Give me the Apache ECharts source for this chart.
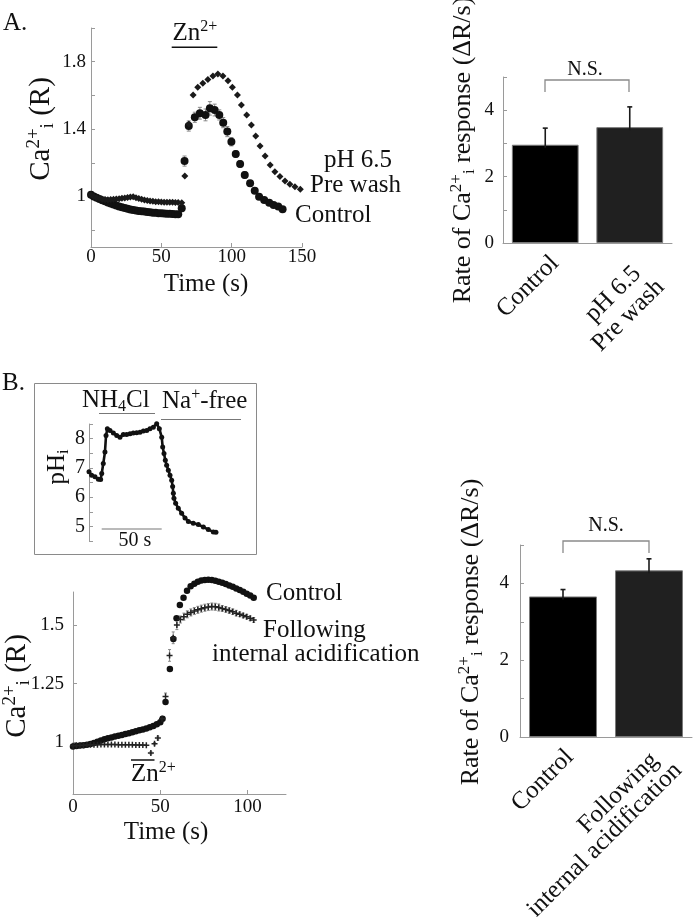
<!DOCTYPE html>
<html>
<head>
<meta charset="utf-8">
<script src="https://cdn.jsdelivr.net/npm/echarts@6/dist/echarts.min.js"></script>
<style>html,body{margin:0;padding:0;background:#fff}#c{width:693px;height:917px}</style>
</head>
<body>
<div id="c"></div>
<script>
// ---------- Panel A (left): Ca2+i ratio vs time ----------
const aControlTime = [0,2,4,6,8,10,12,14,16,18,20,22,24,26,28,30,32,34,36,38,40,42,44,46,48,50,52,54,56,58,60,62,
  64.5,66.5,69.5,73.8,77.4,81.4,84.5,87.9,91.2,94,96.9,99.8,102.9,106,109.3,113.1,116.4,119.5,123.1,126.7,129.8,133.1,136.2];
const aControlValue = [1.01,1.0,0.992,0.985,0.978,0.971,0.964,0.958,0.952,0.946,0.941,0.936,0.931,0.927,0.923,0.92,0.917,0.914,0.912,0.91,0.908,0.906,0.904,0.903,0.901,0.9,0.899,0.898,0.897,0.896,0.895,0.895,
  0.93,1.21,1.418,1.47,1.494,1.484,1.523,1.513,1.484,1.438,1.385,1.325,1.252,1.193,1.128,1.078,1.034,0.999,0.979,0.963,0.95,0.94,0.924];
const aControlErr = [0,0,0,0,0,0,0,0,0,0,0,0,0,0,0,0,0,0,0,0,0,0,0,0,0,0,0,0,0,0,0,0,
  0.02,0.03,0.03,0.03,0.035,0.035,0.04,0.035,0.03,0.03,0.03,0.025,0.02,0.02,0.02,0.015,0.015,0.01,0.01,0.01,0.01,0.01,0.01];
const aPreTime = [0,2,4,6,8,10,12,14,16,18,20,22,24,26,28,30,32,34,36,38,40,42,44,46,48,50,52,54,56,58,60,62,
  64.5,66.7,69.6,72.6,75.9,79.5,83.1,86.7,90.2,93.8,97.4,100.5,104.1,106.9,110.7,114,117.1,120.2,123.8,127.4,130.7,134.3,137.9,141.4,145,148.8];
const aPreValue = [1.01,1.0,0.993,0.988,0.984,0.982,0.981,0.982,0.983,0.985,0.987,0.989,0.991,0.994,0.997,0.998,0.993,0.988,0.983,0.979,0.976,0.973,0.971,0.969,0.968,0.967,0.966,0.966,0.965,0.965,0.964,0.964,
  0.962,1.122,1.43,1.602,1.648,1.672,1.695,1.715,1.727,1.715,1.687,1.648,1.602,1.543,1.484,1.424,1.359,1.3,1.24,1.187,1.147,1.118,1.092,1.072,1.058,1.043];
const aTimeTicks = [0, 50, 100, 150];
const aRatioLabels = [1, 1.4, 1.8];
const aRatioTicks = [0.8, 1, 1.2, 1.4, 1.6, 1.8, 2];

// ---------- Panel A (right): rate bars ----------
const aBarCategories = ['Control', 'pH 6.5\nPre wash'];
const aBarValues = [2.96, 3.49];
const aBarErrors = [0.50, 0.61];

// ---------- Panel B inset: pHi ----------
const bPhTime = [0,2.2,5,7.8,9.7,10.6,11.9,13.3,14.2,15.3,17.5,20.3,23.1,25.8,28.6,31.4,34.2,36.9,39.7,42.5,45.3,48.1,50.8,53.6,56.4,58.6,60.6,61.4,62.5,63.6,64.7,66.1,67.5,68.9,69.7,70.3,70.8,72.2,74.4,77.2,80,82.8,86.9,91.1,95.3,99.4,103.6,105.8];
const bPhValue = [6.87,6.75,6.70,6.61,6.60,6.81,7.15,7.54,8.11,8.34,8.28,8.19,8.11,8.05,8.14,8.14,8.17,8.19,8.20,8.22,8.26,8.28,8.34,8.39,8.51,8.34,8.05,7.71,7.49,7.26,7.09,6.92,6.75,6.58,6.36,6.13,5.96,5.79,5.62,5.45,5.29,5.17,5.11,5.06,4.98,4.89,4.81,4.80];

// ---------- Panel B (lower left): Ca2+i ratio vs time ----------
const bControlTime = [0,2,4,6,8,10,12,14,16,18,20,22,24,26,28,30,32,34,36,38,40,42,44,46,48,50,
  51.3,53,55.5,57.5,59.3,61.2,63.3,65.3,67.4,69.5,71.5,73.5,75.5,77.5,79.5,81.5,83.5,85.5,87.5,89.5,91.5,93.5,95.5,97.5,99.5,101.5,103.5];
const bControlValue = [0.982,0.984,0.986,0.988,0.99,0.993,0.997,1.002,1.008,1.013,1.017,1.021,1.025,1.028,1.031,1.035,1.039,1.043,1.047,1.051,1.055,1.059,1.064,1.07,1.077,1.086,
  1.1,1.172,1.312,1.44,1.528,1.585,1.615,1.645,1.664,1.675,1.684,1.689,1.691,1.692,1.691,1.688,1.684,1.679,1.674,1.668,1.662,1.655,1.648,1.641,1.633,1.625,1.615];
const bFollowTime = [0,2,4,6,8,10,12,14,16,18,20,22,24,26,28,30,32,34,36,38,40,42,
  44.6,46.7,48.6,51,53,55.3,57.4,59.5,61.5,63.5,65.5,67.5,69.5,71.5,73.5,75.5,77.5,79.5,81.5,83.5,85.5,87.5,89.5,91.5,93.5,95.5,97.5,99.5,101.5,103.5];
const bFollowValue = [0.985,0.986,0.987,0.988,0.989,0.99,0.99,0.99,0.991,0.991,0.991,0.991,0.991,0.99,0.99,0.99,0.99,0.99,0.989,0.989,0.989,0.988,
  0.955,0.994,1.018,1.1,1.195,1.37,1.445,1.5,1.523,1.535,1.545,1.553,1.559,1.564,1.569,1.573,1.576,1.578,1.577,1.574,1.57,1.566,1.561,1.556,1.55,1.545,1.54,1.535,1.528,1.521];
const bFollowErr = [0,0,0,0,0,0,0,0,0,0,0,0,0,0,0,0,0,0,0,0,0,0,
  0.005,0.005,0.008,0.01,0.015,0.025,0.025,0.02,0.015,0.015,0.015,0.015,0.015,0.015,0.015,0.015,0.015,0.015,0.015,0.015,0.012,0.012,0.012,0.012,0.012,0.01,0.01,0.01,0.01,0.01];
const bTimeTicks = [0, 50, 100];
const bRatioTicks = [1, 1.25, 1.5];

// ---------- Panel B (right): rate bars ----------
const bBarCategories = ['Control', 'Following\ninternal acidification'];
const bBarValues = [3.66, 4.34];
const bBarErrors = [0.18, 0.30];

// ---------- styling ----------
const F = '"Liberation Serif", "Times New Roman", serif';
const AX = '#9a9a9a';
const TX = '#111';
const barColors = ['#000000', '#202020'];
// rotated category label placement (end of each line, relative to band centre on the axis line)
const aCatLayout = { single: [9.7, 16.7], first: [7.4, 27], next: [23.3, 13.4] };
const bCatLayout = { single: [6.7, 16.4], first: [5.7, 19.7], next: [23.3, 10] };

function zip2(a, b) { return a.map((v, i) => [v, b[i]]); }
function zip3(a, b, c) { return a.map((v, i) => [v, b[i], c[i]]); }

function richStyles(size, supSize) {
  return {
    b: { fontFamily: F, fontSize: size, lineHeight: Math.round(size * 1.15), verticalAlign: 'middle', fill: TX },
    sup: { fontFamily: F, fontSize: supSize, lineHeight: supSize, verticalAlign: 'top', fill: TX },
    sub: { fontFamily: F, fontSize: supSize, lineHeight: supSize, verticalAlign: 'bottom', fill: TX }
  };
}
function txt(text, x, y, o) {
  o = o || {};
  const size = o.size || 25;
  return {
    type: 'text', x: x, y: y, rotation: o.rot || 0, z: 100,
    style: {
      text: text, fontFamily: F, fontSize: size, fill: TX,
      align: o.align || 'left', verticalAlign: 'middle',
      rich: o.rich ? richStyles(size, o.supSize || Math.round(size * 0.65)) : undefined
    }
  };
}
function seg(x1, y1, x2, y2, color, w) {
  return { type: 'line', z: 100, shape: { x1: x1, y1: y1, x2: x2, y2: y2 }, style: { stroke: color, lineWidth: w || 1 } };
}

function lineErrRender(color, cap) {
  return function (params, api) {
    const x = api.value(0), y = api.value(1), e = api.value(2);
    if (!e) return null;
    const lo = api.coord([x, y - e]), hi = api.coord([x, y + e]);
    return {
      type: 'group', children: [
        { type: 'line', shape: { x1: lo[0], y1: lo[1], x2: hi[0], y2: hi[1] }, style: { stroke: color, lineWidth: 1 } },
        { type: 'line', shape: { x1: hi[0] - cap, y1: hi[1], x2: hi[0] + cap, y2: hi[1] }, style: { stroke: color, lineWidth: 1 } },
        { type: 'line', shape: { x1: lo[0] - cap, y1: lo[1], x2: lo[0] + cap, y2: lo[1] }, style: { stroke: color, lineWidth: 1 } }
      ]
    };
  };
}
function barErrRender(params, api) {
  const x = api.value(0), y = api.value(1), e = api.value(2);
  const base = api.coord([x, y]), hi = api.coord([x, y + e]);
  return {
    type: 'group', children: [
      { type: 'line', shape: { x1: base[0], y1: base[1] + 3, x2: hi[0], y2: hi[1] }, style: { stroke: '#1a1a1a', lineWidth: 1.6 } },
      { type: 'line', shape: { x1: hi[0] - 2.5, y1: hi[1], x2: hi[0] + 2.5, y2: hi[1] }, style: { stroke: '#1a1a1a', lineWidth: 1.6 } }
    ]
  };
}

const axisLineStyle = { show: true, onZero: false, lineStyle: { color: AX, width: 1 } };
function tickStyle(extra) { return Object.assign({ show: true, inside: true, length: 4, lineStyle: { color: AX, width: 1 } }, extra || {}); }
function labelStyle(extra) { return Object.assign({ fontFamily: F, fontSize: 19, color: TX }, extra || {}); }

const crossPath = 'path://M3,0L5,0L5,3L8,3L8,5L5,5L5,8L3,8L3,5L0,5L0,3L3,3Z';

const staticGraphics = [
  // Panel A
  txt('A.', 3, 23),
  txt('{b|Ca}{sup|2+}{sub|i}{b| (R)}', 41, 129, { rot: Math.PI / 2, align: 'center', size: 29, supSize: 19, rich: true }),
  txt('Time (s)', 206, 284, { align: 'center' }),
  txt('{b|Zn}{sup|2+}', 172.5, 33, { rich: true, supSize: 16 }),
  seg(171.7, 47.3, 217.3, 47.3, '#111', 1.5),
  txt('pH 6.5', 324, 160),
  txt('Pre wash', 310, 185),
  txt('Control', 295, 215),
  txt('{b|Rate of Ca}{sup|2+}{sub|i}{b| response (\u0394R/s)}', 463, 150, { rot: Math.PI / 2, align: 'center', size: 26, rich: true }),
  txt('N.S.', 585, 70, { align: 'center', size: 20 }),
  { type: 'polyline', z: 100, shape: { points: [[545, 92], [545, 80], [629, 80], [629, 92]] }, style: { stroke: '#8a8a8a', lineWidth: 1.3, fill: null } },

  // Panel B inset
  txt('B.', 2, 383),
  { type: 'rect', z: 90, shape: { x: 34.5, y: 383.5, width: 222, height: 171 }, style: { stroke: '#8a8a8a', lineWidth: 1, fill: null } },
  txt('{b|NH}{sub|4}{b|Cl}', 82, 400, { rich: true, supSize: 16 }),
  seg(99, 413.5, 155, 413.5, '#777', 1.2),
  txt('{b|Na}{sup|+}{b|-free}', 162, 401, { rich: true, supSize: 16 }),
  seg(161, 419.5, 241, 419.5, '#777', 1.2),
  txt('{b|pH}{sub|i}', 57, 467, { rot: Math.PI / 2, align: 'center', size: 25, rich: true }),
  seg(101.7, 529, 161.7, 529, '#777', 1.2),
  txt('50 s', 135, 541, { align: 'center', size: 20 }),

  // Panel B lower
  txt('{b|Ca}{sup|2+}{sub|i}{b| (R)}', 17, 686, { rot: Math.PI / 2, align: 'center', size: 29, supSize: 19, rich: true }),
  txt('Control', 266, 593),
  txt('Following', 263, 630),
  txt('internal acidification', 212, 654),
  txt('{b|Zn}{sup|2+}', 131, 774, { rich: true, supSize: 16 }),
  seg(131, 760, 154.5, 760, '#111', 1.5),
  txt('Time (s)', 166, 832, { align: 'center' }),
  txt('{b|Rate of Ca}{sup|2+}{sub|i}{b| response (\u0394R/s)}', 471, 632, { rot: Math.PI / 2, align: 'center', size: 26, rich: true }),
  txt('N.S.', 606, 526, { align: 'center', size: 20 }),
  { type: 'polyline', z: 100, shape: { points: [[563, 553], [563, 541], [649, 541], [649, 553]] }, style: { stroke: '#8a8a8a', lineWidth: 1.3, fill: null } }
];

const option = {
  animation: false,
  backgroundColor: '#fff',
  textStyle: { fontFamily: F },
  grid: [
    { left: 91, top: 28, width: 211, height: 219, outerBoundsMode: 'none' },
    { left: 503, top: 77, width: 169, height: 166, outerBoundsMode: 'none' },
    { left: 89, top: 424, width: 168, height: 117, outerBoundsMode: 'none' },
    { left: 73, top: 592, width: 213, height: 202, outerBoundsMode: 'none' },
    { left: 520, top: 545, width: 172, height: 192, outerBoundsMode: 'none' }
  ],
  xAxis: [
    { type: 'value', gridIndex: 0, min: 0, max: 150, splitLine: { show: false }, axisLine: axisLineStyle,
      axisTick: tickStyle({ customValues: aTimeTicks }), axisLabel: labelStyle({ customValues: aTimeTicks, margin: 1 }) },
    { type: 'category', gridIndex: 1, data: aBarCategories, axisLine: axisLineStyle, axisTick: { show: false }, axisLabel: { show: false } },
    { type: 'value', gridIndex: 2, min: 0, max: 140, show: false },
    { type: 'value', gridIndex: 3, min: 0, max: 122, splitLine: { show: false }, axisLine: axisLineStyle,
      axisTick: tickStyle({ customValues: bTimeTicks }), axisLabel: labelStyle({ customValues: bTimeTicks, margin: 4 }) },
    { type: 'category', gridIndex: 4, data: bBarCategories, axisLine: axisLineStyle, axisTick: { show: false }, axisLabel: { show: false } }
  ],
  yAxis: [
    { type: 'value', gridIndex: 0, min: 0.7, max: 2.0, splitLine: { show: false }, axisLine: axisLineStyle,
      axisTick: tickStyle({ customValues: aRatioTicks }), axisLabel: labelStyle({ customValues: aRatioLabels, margin: 5 }) },
    { type: 'value', gridIndex: 1, min: 0, max: 5, interval: 1, splitLine: { show: false }, axisLine: axisLineStyle,
      axisTick: tickStyle(), axisLabel: labelStyle({ margin: 9, formatter: v => (v % 2 === 0 ? String(v) : '') }) },
    { type: 'value', gridIndex: 2, min: 4.5, max: 8.5, interval: 0.5, splitLine: { show: false }, axisLine: axisLineStyle,
      axisTick: tickStyle(), axisLabel: labelStyle({ margin: 4, fontSize: 20, formatter: v => (Number.isInteger(v) ? String(v) : '') }) },
    { type: 'value', gridIndex: 3, min: 0.78, max: 1.64, splitLine: { show: false }, axisLine: axisLineStyle,
      axisTick: tickStyle({ customValues: bRatioTicks }), axisLabel: labelStyle({ customValues: bRatioTicks, margin: 9 }) },
    { type: 'value', gridIndex: 4, min: 0, max: 5, interval: 1, splitLine: { show: false }, axisLine: axisLineStyle,
      axisTick: tickStyle(), axisLabel: labelStyle({ margin: 11, formatter: v => (v % 2 === 0 ? String(v) : '') }) }
  ],
  series: [
    { type: 'custom', xAxisIndex: 0, yAxisIndex: 0, z: 1, renderItem: lineErrRender('#8a8a8a', 2), data: zip3(aControlTime, aControlValue, aControlErr), clip: false },
    { type: 'scatter', xAxisIndex: 0, yAxisIndex: 0, z: 3, symbol: 'circle', symbolSize: 8, itemStyle: { color: '#111', opacity: 1 }, data: zip2(aControlTime, aControlValue), clip: false },
    { type: 'scatter', xAxisIndex: 0, yAxisIndex: 0, z: 3, symbol: 'diamond', symbolSize: 7, itemStyle: { color: '#1a1a1a', opacity: 1 }, data: zip2(aPreTime, aPreValue), clip: false },

    { type: 'bar', xAxisIndex: 1, yAxisIndex: 1, barCategoryGap: '21%', z: 2,
      itemStyle: { borderColor: '#7a7a7a', borderWidth: 1 },
      data: aBarValues.map((v, i) => ({ value: v, itemStyle: { color: barColors[i] } })) },
    { type: 'custom', xAxisIndex: 1, yAxisIndex: 1, z: 4, renderItem: barErrRender, data: zip3([0, 1], aBarValues, aBarErrors), clip: false },

    { type: 'line', xAxisIndex: 2, yAxisIndex: 2, z: 3, symbol: 'circle', symbolSize: 5, showAllSymbol: true,
      lineStyle: { color: '#111', width: 2.6 }, itemStyle: { color: '#111' }, data: zip2(bPhTime, bPhValue), clip: false },

    { type: 'custom', xAxisIndex: 3, yAxisIndex: 3, z: 1, renderItem: lineErrRender('#8a8a8a', 1.5), data: zip3(bFollowTime, bFollowValue, bFollowErr), clip: false },
    { type: 'scatter', xAxisIndex: 3, yAxisIndex: 3, z: 3, symbol: 'circle', symbolSize: 6.5, itemStyle: { color: '#111', opacity: 1 }, data: zip2(bControlTime, bControlValue), clip: false },
    { type: 'scatter', xAxisIndex: 3, yAxisIndex: 3, z: 3, symbol: crossPath, symbolSize: 6, itemStyle: { color: '#222', opacity: 1 }, data: zip2(bFollowTime, bFollowValue), clip: false },

    { type: 'bar', xAxisIndex: 4, yAxisIndex: 4, barCategoryGap: '21%', z: 2,
      itemStyle: { borderColor: '#7a7a7a', borderWidth: 1 },
      data: bBarValues.map((v, i) => ({ value: v, itemStyle: { color: barColors[i] } })) },
    { type: 'custom', xAxisIndex: 4, yAxisIndex: 4, z: 4, renderItem: barErrRender, data: zip3([0, 1], bBarValues, bBarErrors), clip: false }
  ]
};

const chart = echarts.init(document.getElementById('c'), null, { renderer: 'canvas', width: 693, height: 917 });
chart.setOption(option);

// Rotated category labels, placed at each category's band centre on its axis.
function categoryLabels(categories, axisIdx, layout) {
  const out = [];
  categories.forEach((name, i) => {
    const p = chart.convertToPixel({ xAxisIndex: axisIdx, yAxisIndex: axisIdx }, [i, 0]);
    const lines = name.split('\n');
    lines.forEach((line, k) => {
      let dx, dy;
      if (lines.length === 1) { dx = layout.single[0]; dy = layout.single[1]; }
      else { dx = layout.first[0] + k * layout.next[0]; dy = layout.first[1] + k * layout.next[1]; }
      out.push({
        type: 'text', x: p[0] + dx, y: p[1] + dy, rotation: Math.PI / 4, z: 100,
        style: { text: line, fontFamily: F, fontSize: 25, fill: TX, align: 'right', verticalAlign: 'middle' }
      });
    });
  });
  return out;
}

chart.setOption({
  graphic: staticGraphics
    .concat(categoryLabels(aBarCategories, 1, aCatLayout))
    .concat(categoryLabels(bBarCategories, 4, bCatLayout))
});
</script>
</body>
</html>
